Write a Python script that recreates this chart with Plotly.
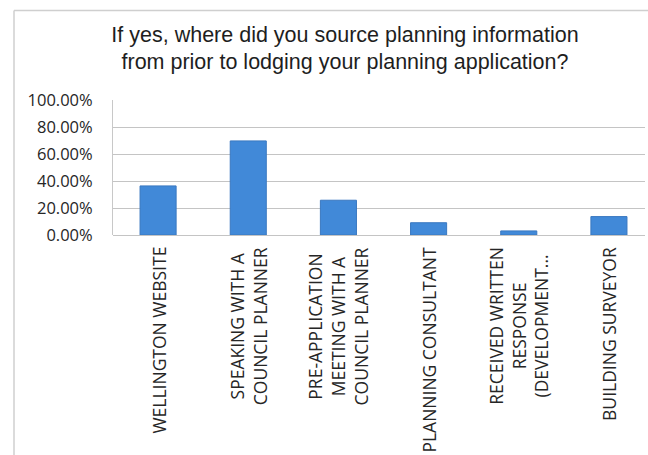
import plotly.graph_objects as go

categories = [
    'WELLINGTON WEBSITE',
    'SPEAKING WITH A<br>COUNCIL PLANNER',
    'PRE-APPLICATION<br>MEETING WITH A<br>COUNCIL PLANNER',
    'PLANNING CONSULTANT',
    'RECEIVED WRITTEN<br>RESPONSE<br>(DEVELOPMENT...',
    'BUILDING SURVEYOR',
]
shares = [0.3636, 0.697, 0.2576, 0.0909, 0.0303, 0.1364]
y_ticks = [0, 0.2, 0.4, 0.6, 0.8, 1.0]

title = ('If yes, where did you source planning information<br>'
         'from prior to lodging your planning application?')

W, H = 648, 455
L, R, T, B = 113, 3, 100, 220
pw, ph = W - L - R, H - T - B

fig = go.Figure()
fig.add_trace(go.Bar(x=list(range(len(categories))), y=shares,
                     marker=dict(color='#4189d8', line=dict(color='#3a78c0', width=1)),
                     hoverinfo='skip'))

# category labels, rotated and centre-aligned like the Excel original
for i, lab in enumerate(categories):
    fig.add_annotation(x=i, xref='x', y=-10 / ph, yref='paper',
                       text=lab, textangle=-90, showarrow=False,
                       xanchor='center', yanchor='top', align='center',
                       font=dict(family='Open Sans', size=17.5, color='#262626'))

# chart frame (left and top edges only; the rest is cropped off)
fx, fy = (14 - L) / pw, (H - 10.5 - B) / ph
fig.add_shape(type='line', xref='paper', yref='paper',
              x0=fx, x1=fx, y0=-(B + 5) / ph, y1=fy,
              line=dict(color='#cfcfcf', width=1.5), layer='below')
fig.add_shape(type='line', xref='paper', yref='paper',
              x0=fx, x1=(W + 5 - L) / pw, y0=fy, y1=fy,
              line=dict(color='#cfcfcf', width=1.5), layer='below')

fig.update_layout(
    width=W, height=H,
    margin=dict(l=L, r=R, t=T, b=B),
    paper_bgcolor='white', plot_bgcolor='white',
    showlegend=False, bargap=0.6,
    title=dict(text=title, x=345 / W, xanchor='center',
               y=1 - 41.5 / H, yanchor='middle',
               font=dict(family='Liberation Sans', size=21.5, color='#1e1e1e')),
)
fig.update_xaxes(range=[-0.5, 5.4], showticklabels=False, showgrid=False,
                 zeroline=False, showline=False, ticks='')
fig.update_yaxes(range=[0, 1], tickvals=y_ticks, tickformat='.2%',
                 showgrid=True, gridcolor='#c4c4c4', gridwidth=1,
                 zeroline=True, zerolinecolor='#c4c4c4', zerolinewidth=1,
                 showline=True, linecolor='#c8c8c8', linewidth=1,
                 ticklabelstandoff=16,
                 tickfont=dict(family='Open Sans', size=16.5, color='#262626'))

# drop the default body margin so the figure fills the window exactly
fig.write_html('out.html', config={'displayModeBar': False},
               post_script="document.body.style.margin='0';"
                           "document.body.style.overflow='hidden';")
